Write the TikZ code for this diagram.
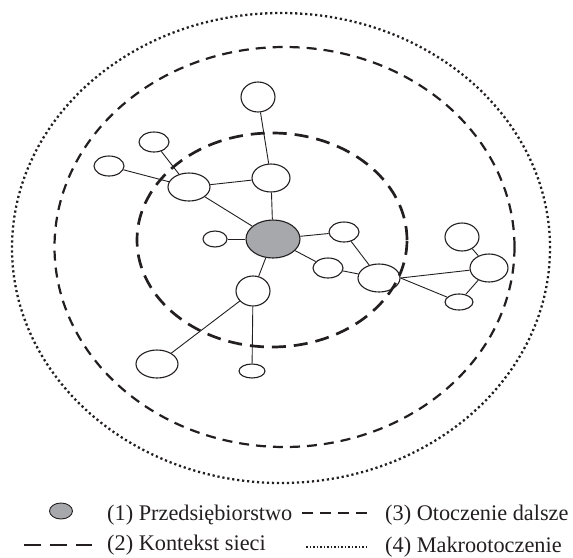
\documentclass[tikz,border=0pt]{standalone}
\usepackage{fontspec}
\setmainfont{Liberation Serif}
\usetikzlibrary{shapes.geometric}
\definecolor{ink}{RGB}{35,31,32}
\definecolor{firm}{RGB}{166,168,171}
\begin{document}
\begin{tikzpicture}[x=1pt,y=-1pt,
  nd/.style={draw=ink, ellipse, line width=1.1pt, fill=white, inner sep=0pt},
  core/.style={nd, fill=firm},
  edge/.style={draw=ink, line width=0.9pt},
  ringnet/.style={draw=ink, line width=2.7pt, dash pattern=on 14pt off 8pt},
  ringfar/.style={draw=ink, line width=2.2pt, dash pattern=on 10pt off 7pt},
  ringmacro/.style={draw=ink, line width=2.3pt, dash pattern=on 2.2pt off 2.8pt},
  legtext/.style={anchor=base west, inner sep=0pt, font=\fontsize{22.3}{25}\selectfont, text=ink}
]
\useasboundingbox (0,0) rectangle (573,557);

% nodes
\node[core, minimum width=54pt, minimum height=38pt] (F) at (273,239) {};
\node[nd, minimum width=34pt, minimum height=30pt] (A) at (258,97) {};
\node[nd, minimum width=30pt, minimum height=20pt] (B) at (154,142) {};
\node[nd, minimum width=30pt, minimum height=20pt] (C) at (109,166) {};
\node[nd, minimum width=42pt, minimum height=28pt] (D) at (189,187) {};
\node[nd, minimum width=38pt, minimum height=28pt] (E) at (271,178) {};
\node[nd, minimum width=24pt, minimum height=16pt] (G) at (215,239) {};
\node[nd, minimum width=30pt, minimum height=20pt] (H) at (344,232) {};
\node[nd, minimum width=30pt, minimum height=20pt] (I) at (328,268) {};
\node[nd, minimum width=42pt, minimum height=28pt] (J) at (379,278) {};
\node[nd, minimum width=34pt, minimum height=28pt] (K) at (462,237) {};
\node[nd, minimum width=38pt, minimum height=28pt] (L) at (489,268) {};
\node[nd, minimum width=28pt, minimum height=16pt] (M) at (459,302) {};
\node[nd, minimum width=34pt, minimum height=30pt] (N) at (253,291) {};
\node[nd, minimum width=42pt, minimum height=28pt] (O) at (157,364) {};
\node[nd, minimum width=26pt, minimum height=14pt] (P) at (252,371) {};

% connectors
\draw[edge] (A) -- (E);
\draw[edge] (B) -- (D);
\draw[edge] (C) -- (D);
\draw[edge] (D) -- (E);
\draw[edge] (D) -- (F);
\draw[edge] (E) -- (F);
\draw[edge] (G) -- (F);
\draw[edge] (F) -- (H);
\draw[edge] (F) -- (I);
\draw[edge] (H) -- (J);
\draw[edge] (I) -- (J);
\draw[edge] (J.east) -- (L);
\draw[edge] (J.east) -- (M);
\draw[edge] (K) -- (L);
\draw[edge] (L) -- (M);
\draw[edge] (F) -- (N);
\draw[edge] (N) -- (O);
\draw[edge] (N) -- (P);

% rings
\draw[ringnet] (272,240) ellipse [x radius=135pt, y radius=107pt];
\draw[ringfar] (284.5,247) ellipse [x radius=230pt, y radius=200pt];
\draw[ringmacro] (281,248) ellipse [x radius=269pt, y radius=235pt];

% legend
\node[core, minimum width=23pt, minimum height=16pt, line width=0.9pt] (LG) at (61,511) {};
\node[legtext] (T1) at (107,520) {(1) Przedsiębiorstwo};
\node[legtext] (T2) at (107,550) {(2) Kontekst sieci};
\node[legtext] (T3) at (385,520) {(3) Otoczenie dalsze};
\node[legtext] (T4) at (385,552) {(4) Makrootoczenie};
\coordinate (L3a) at (302,513);
\coordinate (L3b) at (367,513);
\coordinate (L2a) at (24,545);
\coordinate (L2b) at (92,545);
\coordinate (L4a) at (306,547);
\coordinate (L4b) at (368,547);
\draw[draw=ink, line width=2.2pt, dash pattern=on 11pt off 7pt] (L3a) -- (L3b);
\draw[draw=ink, line width=2.7pt, dash pattern=on 17pt off 9pt] (L2a) -- (L2b);
\draw[draw=ink, line width=1.9pt, dash pattern=on 1.5pt off 2pt] (L4a) -- (L4b);
\end{tikzpicture}
\end{document}
